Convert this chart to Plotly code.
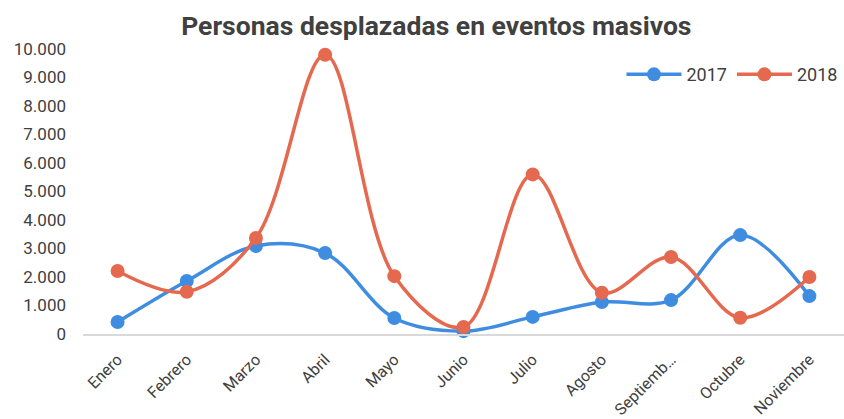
import plotly.graph_objects as go

meses = ["Enero", "Febrero", "Marzo", "Abril", "Mayo", "Junio", "Julio",
         "Agosto", "Septiembre", "Octubre", "Noviembre"]
etiquetas = ["Enero", "Febrero", "Marzo", "Abril", "Mayo", "Junio", "Julio",
             "Agosto", "Septiemb…", "Octubre", "Noviembre"]
valores_2017 = [420, 1860, 3090, 2840, 560, 100, 600, 1120, 1190, 3470, 1330]
valores_2018 = [2210, 1480, 3370, 9800, 2030, 250, 5600, 1450, 2700, 570, 2000]
y_ticks = [0, 1000, 2000, 3000, 4000, 5000, 6000, 7000, 8000, 9000, 10000]
y_labels = ["0", "1.000", "2.000", "3.000", "4.000", "5.000", "6.000",
            "7.000", "8.000", "9.000", "10.000"]

fig = go.Figure()

for nombre, valores, color in [("2017", valores_2017, "#3F8DE0"),
                               ("2018", valores_2018, "#E5694F")]:
    fig.add_trace(go.Scatter(
        x=meses,
        y=valores,
        name=nombre,
        mode="lines+markers",
        line=dict(color=color, width=3.5, shape="spline", smoothing=1.0),
        marker=dict(color=color, size=14),
        cliponaxis=False,
    ))

fig.update_layout(
    width=844,
    height=419,
    margin=dict(l=83, r=0, t=49, b=85, autoexpand=False),
    paper_bgcolor="white",
    plot_bgcolor="white",
    font=dict(family="Roboto", size=18, color="#404040"),
    title=dict(
        text="<b>Personas desplazadas en eventos masivos</b>",
        font=dict(family="Roboto", size=26.5, color="#404040"),
        x=0.517, xanchor="center", y=0.96, yanchor="top",
    ),
    legend=dict(
        orientation="h", x=0.998, xanchor="right", y=0.91, yanchor="middle",
        font=dict(size=18, color="#404040"), bgcolor="rgba(0,0,0,0)",
        itemwidth=55,
    ),
    xaxis=dict(
        tickmode="array", tickvals=meses, ticktext=etiquetas,
        tickangle=-45, tickfont=dict(size=16), ticklabelstandoff=8,
        showgrid=False, showline=True, linecolor="#d9d9d9", linewidth=2,
        ticks="", range=[-0.5, 10.5], automargin=False,
    ),
    yaxis=dict(
        tickmode="array", tickvals=y_ticks, ticktext=y_labels,
        range=[0, 10000], showgrid=False, zeroline=False, ticks="",
        tickfont=dict(size=17), ticklabelstandoff=16, automargin=False,
    ),
)

fig.write_html("out.html", config={"displayModeBar": False},
               post_script="document.body.style.margin='0';")
